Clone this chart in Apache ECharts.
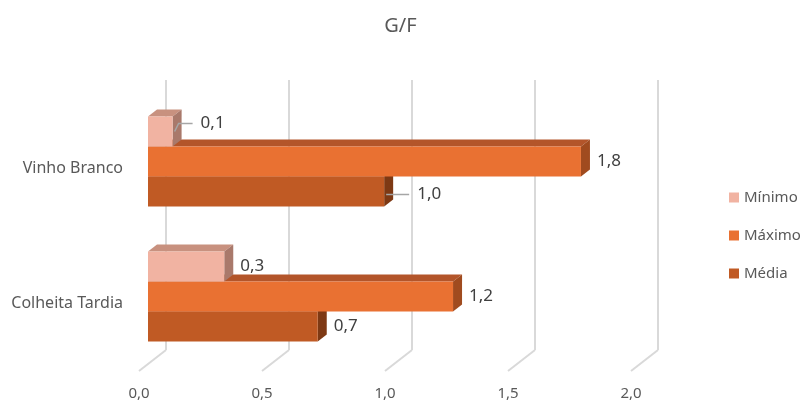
<!DOCTYPE html>
<html>
<head>
<meta charset="utf-8">
<script src="https://cdn.jsdelivr.net/npm/echarts@6/dist/echarts.min.js"></script>
<style>
  html, body { margin: 0; padding: 0; background: #fff; }
  #chart { width: 801px; height: 402px; }
</style>
</head>
<body>
<div id="chart"></div>
<script>
// G/F values per wine type
const categories = ['Vinho Branco', 'Colheita Tardia'];
const seriesNames = ['Mínimo', 'Máximo', 'Média'];
const minimo = [0.10, 0.31];
const maximo = [1.76, 1.24];
const media = [0.96, 0.69];
const axisTicks = [0, 0.5, 1.0, 1.5, 2.0];

const seriesValues = [minimo, maximo, media];

// face colours: front, top, side
const palettes = [
  { front: '#F1B3A2', top: '#C8917F', side: '#A9796B' },
  { front: '#E97132', top: '#B3552A', side: '#A04B1F' },
  { front: '#C05A24', top: '#8E421A', side: '#7E3914' }
];

// oblique depth of the floor (back wall sits this far right/up)
const DEPTH_X = 27, DEPTH_Y = 21;
// bars occupy the middle third of the depth
const BAR_DX = DEPTH_X / 3, BAR_DY = DEPTH_Y / 3;

// hand-placed labels (series index, category index) with leader lines
const labelNudge = {
  '0-0': { dx: 12, dy: -8, anchorDy: 0 },
  '2-0': { dx: 17, dy: 3, anchorDy: 3 }
};

const fmt = v => (Math.round(v * 10) / 10).toFixed(1).replace('.', ',');
const font = '"Noto Sans", "Open Sans", sans-serif';

function barRenderer(si) {
  const pal = palettes[si];
  return function (params, api) {
    const cat = api.value(1);
    const val = api.value(0);
    const origin = api.coord([0, cat]);
    const end = api.coord([val, cat]);
    const band = api.size([0, 1])[1];
    const barH = band / 4.5;
    const cy = origin[1] + (si - 1) * barH - BAR_DY;
    const x0 = origin[0] + BAR_DX;
    const x1 = end[0] + BAR_DX;
    const yTop = cy - barH / 2, yBot = cy + barH / 2;

    const children = [
      { type: 'polygon', shape: { points: [[x0, yTop], [x1, yTop], [x1 + BAR_DX, yTop - BAR_DY], [x0 + BAR_DX, yTop - BAR_DY]] },
        style: { fill: pal.top } },
      { type: 'polygon', shape: { points: [[x1, yTop], [x1 + BAR_DX, yTop - BAR_DY], [x1 + BAR_DX, yBot - BAR_DY], [x1, yBot]] },
        style: { fill: pal.side } },
      { type: 'rect', shape: { x: x0, y: yTop, width: x1 - x0, height: barH },
        style: { fill: pal.front } }
    ];

    const nudge = labelNudge[si + '-' + cat];
    let lx = x1 + BAR_DX + 7;
    let ly = cy;
    if (nudge) {
      lx += nudge.dx;
      ly += nudge.dy;
      const ay = cy + nudge.anchorDy;
      children.push({
        type: 'polyline',
        shape: { points: nudge.dy < 0
          ? [[x1 + 2, ay], [lx - 22, ly], [lx - 8, ly]]
          : [[x1 + 2, ay], [lx - 8, ly]] },
        style: { stroke: '#A6A6A6', lineWidth: 1.5, fill: null }
      });
    }
    children.push({
      type: 'text',
      style: { text: fmt(val), x: lx, y: ly, align: 'left', verticalAlign: 'middle',
        fill: '#404040', font: '17px ' + font }
    });
    return { type: 'group', children: children };
  };
}

const chart = echarts.init(document.getElementById('chart'), null, { renderer: 'canvas' });

const xMin = axisTicks[0], xMax = axisTicks[axisTicks.length - 1];
const xStep = axisTicks[1] - axisTicks[0];

const barSeries = seriesNames.map((name, si) => ({
  name: name,
  type: 'custom',
  xAxisIndex: 0,
  yAxisIndex: 0,
  z: 10 - si,
  itemStyle: { color: palettes[si].front },
  encode: { x: 0, y: 1 },
  data: seriesValues[si].map((v, ci) => [v, ci]),
  renderItem: barRenderer(si)
}));
// draw Média first, Mínimo last so upper bars cover lower bars' top faces
barSeries.reverse();

const option = {
  backgroundColor: '#fff',
  animation: false,
  title: {
    text: 'G/F',
    left: 'center',
    top: 11,
    textStyle: { color: '#595959', fontSize: 20, fontWeight: 'normal', fontFamily: font }
  },
  legend: {
    orient: 'vertical',
    left: 729,
    top: 190,
    padding: 0,
    itemWidth: 10,
    itemHeight: 10,
    itemGap: 23,
    icon: 'rect',
    data: seriesNames,
    textStyle: { color: '#595959', fontSize: 15, fontFamily: font }
  },
  grid: [
    { left: 139, top: 101, width: 492, height: 270 },
    { left: 139 + DEPTH_X, top: 101 - DEPTH_Y, width: 492, height: 270 }
  ],
  xAxis: [
    {
      type: 'value', gridIndex: 0, min: xMin, max: xMax, interval: xStep,
      axisLine: { show: false }, axisTick: { show: false }, splitLine: { show: false },
      axisLabel: { color: '#595959', fontSize: 15, fontFamily: font, margin: 15,
        formatter: v => v.toFixed(1).replace('.', ',') }
    },
    {
      type: 'value', gridIndex: 1, min: xMin, max: xMax, interval: xStep,
      axisLine: { show: false }, axisTick: { show: false }, axisLabel: { show: false },
      splitLine: { show: true, lineStyle: { color: '#D9D9D9', width: 2 } }
    }
  ],
  yAxis: [
    {
      type: 'category', gridIndex: 0, data: categories, inverse: true,
      axisLine: { show: false }, axisTick: { show: false },
      axisLabel: { color: '#595959', fontSize: 16, fontFamily: font, margin: 16 }
    },
    {
      type: 'category', gridIndex: 1, data: categories, inverse: true, show: false
    }
  ],
  series: [
    {
      // floor tick lines running from the front edge back to the wall
      type: 'custom',
      xAxisIndex: 0,
      yAxisIndex: 0,
      z: 1,
      silent: true,
      encode: { x: 0 },
      data: axisTicks.map(v => [v]),
      renderItem: function (params, api) {
        const cs = params.coordSys;
        const x = api.coord([api.value(0), 0])[0];
        const y = cs.y + cs.height;
        return {
          type: 'line',
          shape: { x1: x, y1: y, x2: x + DEPTH_X, y2: y - DEPTH_Y },
          style: { stroke: '#D9D9D9', lineWidth: 2 }
        };
      }
    }
  ].concat(barSeries)
};

chart.setOption(option);
</script>
</body>
</html>
